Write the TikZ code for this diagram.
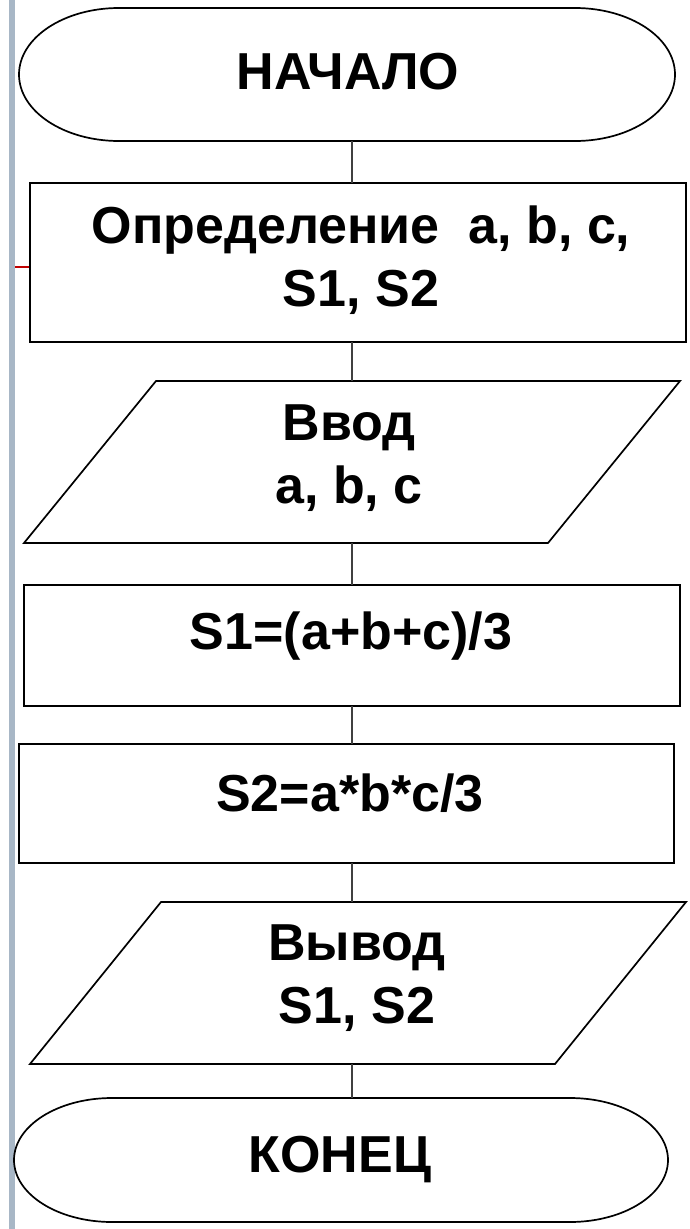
\documentclass[tikz,border=0pt]{standalone}
\usepackage{fontspec}
\setmainfont{Liberation Sans}
\definecolor{barcol}{HTML}{A8B7C6}
\definecolor{redline}{HTML}{C00000}
\tikzset{
  shapebox/.style={draw=none, inner sep=0pt, outer sep=0pt, rectangle},
  outline/.style={draw=black, line width=1.7pt},
  procbox/.style={draw=black, line width=1.7pt, inner sep=0pt, outer sep=0pt, rectangle},
  label/.style={font=\fontsize{52}{63}\selectfont\bfseries, align=center, inner sep=0pt},
  conn/.style={draw=black!75, line width=1.2pt}
}
\begin{document}
\begin{tikzpicture}[x=1pt, y=-1pt]
\useasboundingbox (0,0) rectangle (690,1229);
\fill[white] (0,0) rectangle (690,1229);
% left bar and red tick
\fill[barcol] (9,0) rectangle (15,1229);
\draw[redline, line width=1.3pt] (15,267) -- (30,267);

% terminator start
\node[shapebox, minimum width=656pt, minimum height=133pt] (t1) at (347,74.5) {};
\draw[outline] ([xshift=100pt]t1.north west) -- ([xshift=-100pt]t1.north east)
  arc[start angle=90, end angle=-90, x radius=100pt, y radius=66.5pt]
  -- ([xshift=100pt]t1.south west)
  arc[start angle=270, end angle=90, x radius=100pt, y radius=66.5pt] -- cycle;
\node[label] (t1txt) at (348,72) {НАЧАЛО};

% box 1
\node[procbox, minimum width=656pt, minimum height=159pt] (b1) at (358,262.5) {};
\node[label] (b1txt) at (361,260) {Определение\ \ a, b, c,\\S1, S2};

% input parallelogram
\node[shapebox, minimum width=656pt, minimum height=162pt] (p1) at (352,462) {};
\draw[outline] ([xshift=132pt]p1.north west) -- (p1.north east)
  -- ([xshift=-132pt]p1.south east) -- (p1.south west) -- cycle;
\node[label] (p1txt) at (349,458) {Ввод\\a, b, c};

% box 2
\node[procbox, minimum width=656pt, minimum height=121pt] (b2) at (352,645.5) {};
\node[label] (b2txt) at (351,636) {S1=(a+b+c)/3};

% box 3
\node[procbox, minimum width=655pt, minimum height=119pt] (b3) at (346.5,803.5) {};
\node[label] (b3txt) at (350,793) {S2=a*b*c/3};

% output parallelogram
\node[shapebox, minimum width=656pt, minimum height=162pt] (p2) at (358,983) {};
\draw[outline] ([xshift=131pt]p2.north west) -- (p2.north east)
  -- ([xshift=-131pt]p2.south east) -- (p2.south west) -- cycle;
\node[label] (p2txt) at (357,978) {Вывод\\S1, S2};

% terminator end
\node[shapebox, minimum width=654pt, minimum height=124pt] (t2) at (341,1160) {};
\draw[outline] ([xshift=98pt]t2.north west) -- ([xshift=-98pt]t2.north east)
  arc[start angle=90, end angle=-90, x radius=98pt, y radius=62pt]
  -- ([xshift=98pt]t2.south west)
  arc[start angle=270, end angle=90, x radius=98pt, y radius=62pt] -- cycle;
\node[label] (t2txt) at (340,1160) {КОНЕЦ};

% connectors
\coordinate (cx) at (352,0);
\draw[conn] (t1.south -| cx) -- (b1.north -| cx);
\draw[conn] (b1.south -| cx) -- (p1.north -| cx);
\draw[conn] (p1.south -| cx) -- (b2.north -| cx);
\draw[conn] (b2.south -| cx) -- (b3.north -| cx);
\draw[conn] (b3.south -| cx) -- (p2.north -| cx);
\draw[conn] (p2.south -| cx) -- (t2.north -| cx);
\end{tikzpicture}
\end{document}
